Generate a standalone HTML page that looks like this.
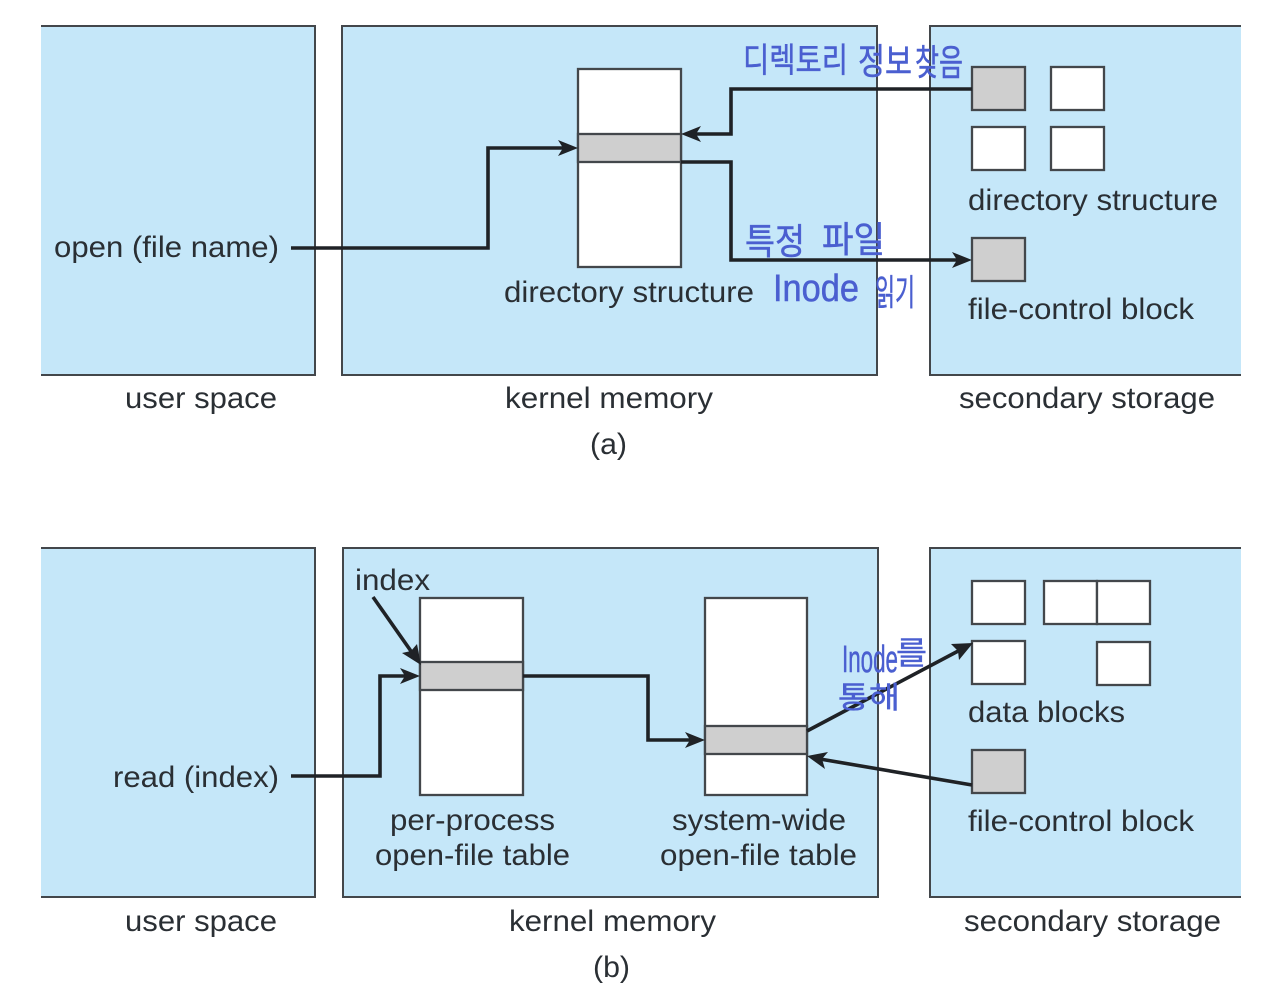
<!DOCTYPE html>
<html><head><meta charset="utf-8"><style>
html,body{margin:0;padding:0;background:#fff;width:1264px;height:1000px;overflow:hidden}
svg{display:block}
.t{font-family:"Liberation Sans",sans-serif;font-size:30px;fill:#2a2f34}
.h{font-family:"Liberation Sans","Noto Sans CJK KR",sans-serif;fill:#4a5fd0;stroke:#4a5fd0;stroke-width:.5;font-weight:400}
.p{fill:#c5e7f9}
.b{fill:none;stroke:#43474b;stroke-width:2}
.r{fill:#fff;stroke:#43474b;stroke-width:2.3}
.g{fill:#cfcfcf;stroke:#43474b;stroke-width:2.3}
.a{fill:none;stroke:#1f2226;stroke-width:3.6}
.ah{fill:#1f2226}
</style></head><body>
<svg width="1264" height="1000" viewBox="0 0 1264 1000" xmlns="http://www.w3.org/2000/svg">
<!-- top panels -->
<rect class="p" x="41" y="26" width="274" height="349"/>
<path class="b" d="M41 26H315V375H41"/>
<rect class="p b" style="fill:#c5e7f9" x="342" y="26" width="535" height="349"/>
<rect class="p" x="930" y="26" width="311" height="349"/>
<path class="b" d="M1241 26H930V375H1241"/>
<!-- top boxes -->
<rect class="r" x="578" y="69" width="103" height="198"/>
<rect class="g" x="578" y="134" width="103" height="28"/>
<rect class="g" x="972" y="67" width="53" height="43"/>
<rect class="r" x="1051" y="67" width="53" height="43"/>
<rect class="r" x="972" y="127" width="53" height="43"/>
<rect class="r" x="1051" y="127" width="53" height="43"/>
<rect class="g" x="972" y="238" width="53" height="43"/>
<!-- top arrows -->
<path class="a" d="M291 248H488V148H566"/>
<path class="ah" d="M578 148L558 140L563 148L558 156Z"/>
<path class="a" d="M972 89H731V134H694"/>
<path class="ah" d="M681 134L701 126L696 134L701 142Z"/>
<path class="a" d="M681 162H731V260H960"/>
<path class="ah" d="M972 260L952 252L957 260L952 268Z"/>
<!-- top text -->
<text class="t" x="54" y="257" textLength="225" lengthAdjust="spacingAndGlyphs">open (file name)</text>
<text class="t" x="504" y="302" textLength="250" lengthAdjust="spacingAndGlyphs">directory structure</text>
<text class="t" x="968" y="210" textLength="250" lengthAdjust="spacingAndGlyphs">directory structure</text>
<text class="t" x="968" y="319" textLength="226" lengthAdjust="spacingAndGlyphs">file-control block</text>
<text class="t" x="125" y="408" textLength="152" lengthAdjust="spacingAndGlyphs">user space</text>
<text class="t" x="505" y="408" textLength="208" lengthAdjust="spacingAndGlyphs">kernel memory</text>
<text class="t" x="959" y="408" textLength="256" lengthAdjust="spacingAndGlyphs">secondary storage</text>
<text class="t" x="590" y="454" textLength="37" lengthAdjust="spacingAndGlyphs">(a)</text>
<!-- bottom panels -->
<rect class="p" x="41" y="548" width="274" height="349"/>
<path class="b" d="M41 548H315V897H41"/>
<rect class="p b" style="fill:#c5e7f9" x="343" y="548" width="535" height="349"/>
<rect class="p" x="930" y="548" width="311" height="349"/>
<path class="b" d="M1241 548H930V897H1241"/>
<!-- bottom boxes -->
<rect class="r" x="420" y="598" width="103" height="197"/>
<rect class="g" x="420" y="662" width="103" height="28"/>
<rect class="r" x="705" y="598" width="102" height="197"/>
<rect class="g" x="705" y="726" width="102" height="28"/>
<rect class="r" x="972" y="581" width="53" height="43"/>
<rect class="r" x="1044" y="581" width="53" height="43"/>
<rect class="r" x="1097" y="581" width="53" height="43"/>
<rect class="r" x="972" y="641" width="53" height="43"/>
<rect class="r" x="1097" y="642" width="53" height="43"/>
<rect class="g" x="972" y="750" width="53" height="43"/>
<!-- bottom arrows -->
<path class="a" d="M291 776H380V676H408"/>
<path class="ah" d="M420 676L400 668L405 676L400 684Z"/>
<path class="a" d="M373 597L413 654"/>
<path class="ah" d="M421 665L417 644L411 651L402 653Z"/>
<path class="a" d="M523 676H648V740H693"/>
<path class="ah" d="M705 740L685 732L690 740L685 748Z"/>
<path class="a" d="M807 731L962 649"/>
<path class="ah" d="M973 643L951 644L958 651L959 660Z"/>
<path class="a" d="M972 785L820 759"/>
<path class="ah" d="M807 756L825 769L822 759L828 752Z"/>
<!-- bottom text -->
<text class="t" x="355" y="590" textLength="75" lengthAdjust="spacingAndGlyphs">index</text>
<text class="t" x="113" y="787" textLength="166" lengthAdjust="spacingAndGlyphs">read (index)</text>
<text class="t" x="390" y="830" textLength="165" lengthAdjust="spacingAndGlyphs">per-process</text>
<text class="t" x="375" y="865" textLength="195" lengthAdjust="spacingAndGlyphs">open-file table</text>
<text class="t" x="672" y="830" textLength="174" lengthAdjust="spacingAndGlyphs">system-wide</text>
<text class="t" x="660" y="865" textLength="197" lengthAdjust="spacingAndGlyphs">open-file table</text>
<text class="t" x="968" y="722" textLength="157" lengthAdjust="spacingAndGlyphs">data blocks</text>
<text class="t" x="968" y="831" textLength="226" lengthAdjust="spacingAndGlyphs">file-control block</text>
<text class="t" x="125" y="931" textLength="152" lengthAdjust="spacingAndGlyphs">user space</text>
<text class="t" x="509" y="931" textLength="207" lengthAdjust="spacingAndGlyphs">kernel memory</text>
<text class="t" x="964" y="931" textLength="257" lengthAdjust="spacingAndGlyphs">secondary storage</text>
<text class="t" x="593" y="977" textLength="37" lengthAdjust="spacingAndGlyphs">(b)</text>
<!-- handwritten notes -->
<text class="h" x="743" y="72" font-size="34" textLength="105" lengthAdjust="spacingAndGlyphs">디렉토리</text>
<text class="h" x="858" y="74" font-size="36" textLength="54" lengthAdjust="spacingAndGlyphs">정보</text>
<text class="h" x="915" y="75" font-size="36" textLength="48" lengthAdjust="spacingAndGlyphs">찾음</text>
<text class="h" x="745" y="254" font-size="36" textLength="60" lengthAdjust="spacingAndGlyphs">특정</text>
<text class="h" x="822" y="252" font-size="36" textLength="63" lengthAdjust="spacingAndGlyphs">파일</text>
<text class="h" x="773" y="301" font-size="38" textLength="86" lengthAdjust="spacingAndGlyphs">Inode</text>
<text class="h" x="875" y="305" font-size="36" textLength="40" lengthAdjust="spacingAndGlyphs">읽기</text>
<text class="h" x="842" y="672" font-size="38" textLength="56" lengthAdjust="spacingAndGlyphs">Inode</text>
<text class="h" x="896" y="664" font-size="32" textLength="31" lengthAdjust="spacingAndGlyphs">를</text>
<text class="h" x="838" y="708" font-size="30" textLength="62" lengthAdjust="spacingAndGlyphs">통해</text>
</svg>
</body></html>
